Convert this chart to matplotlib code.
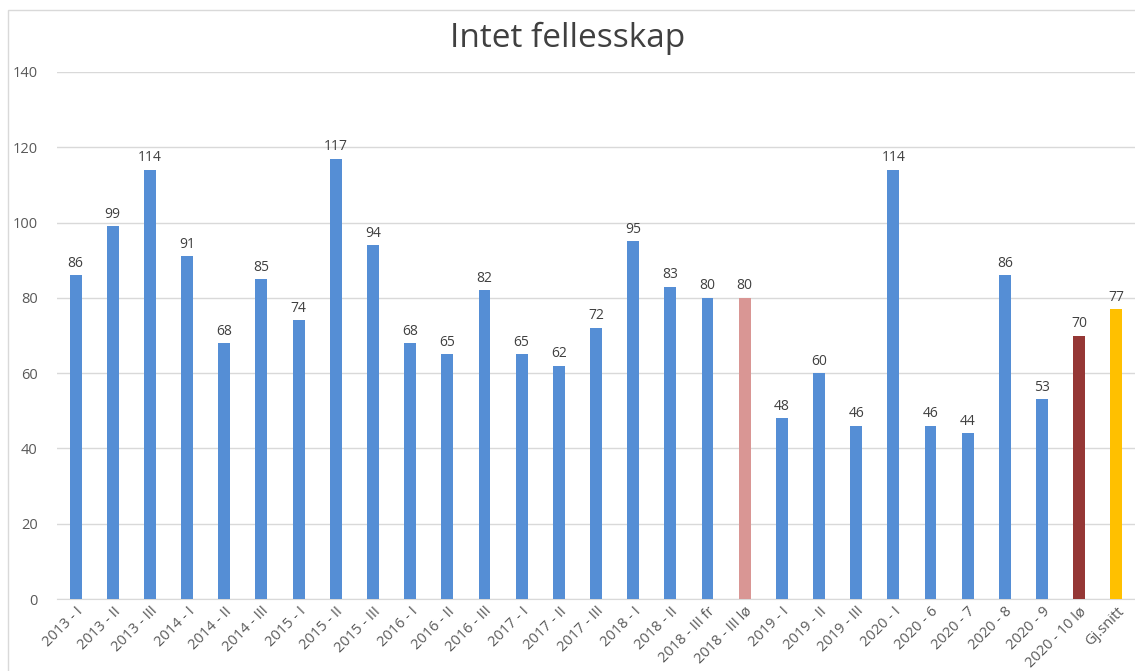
import matplotlib
matplotlib.use("Agg")
import matplotlib.pyplot as plt
from matplotlib.patches import Rectangle

plt.rcParams["font.family"] = ["Open Sans", "DejaVu Sans"]

categories = [
    "2013 - I", "2013 - II", "2013 - III", "2014 - I", "2014 - II", "2014 - III",
    "2015 - I", "2015 - II", "2015 - III", "2016 - I", "2016 - II", "2016 - III",
    "2017 - I", "2017 - II", "2017 - III", "2018 - I", "2018 - II", "2018 - III fr",
    "2018 - III lø", "2019 - I", "2019 - II", "2019 - III", "2020 - I", "2020 - 6",
    "2020 - 7", "2020 - 8", "2020 - 9", "2020 - 10 lø", "Gj.snitt",
]
values = [86, 99, 114, 91, 68, 85, 74, 117, 94, 68, 65, 82, 65, 62, 72, 95, 83, 80,
          80, 48, 60, 46, 114, 46, 44, 86, 53, 70, 77]

blue = "#558ED5"
special = {"2018 - III lø": "#D99694", "2020 - 10 lø": "#953735", "Gj.snitt": "#FFC000"}
colors = [special.get(c, blue) for c in categories]

fig = plt.figure(figsize=(11.35, 6.71), dpi=100)
ax = fig.add_axes([0.0502, 0.1073, 0.9498, 0.7854])

x = range(len(categories))
bars = ax.bar(x, values, width=0.32, color=colors, zorder=3)
for b, v in zip(bars, values):
    ax.text(b.get_x() + b.get_width() / 2, v + 1.2, str(v), ha="center", va="bottom",
            fontsize=10, color="#404040")

ax.set_xlim(-0.5, len(categories) - 0.5)
ax.set_ylim(0, 140)
ax.set_yticks(range(0, 141, 20))
ax.yaxis.grid(True, color="#D9D9D9", linewidth=1, zorder=0)
ax.tick_params(axis="both", length=0, labelsize=10.5, colors="#595959")
ax.tick_params(axis="y", pad=14)
ax.set_xticks(list(x))
ax.set_xticklabels(categories, rotation=45, ha="right", rotation_mode="anchor")
for s in ax.spines.values():
    s.set_visible(False)
ax.spines["bottom"].set_visible(True)
ax.spines["bottom"].set_color("#D9D9D9")

fig.text(0.5, 0.943, "Intet fellesskap", ha="center", va="center", fontsize=24,
         color="#404040")

fig.patches.append(Rectangle((8 / 1135, -0.1), 1.2, 1.1 - 10 / 671,
                             transform=fig.transFigure, fill=False,
                             edgecolor="#D9D9D9", linewidth=1))

fig.savefig("out.png", dpi=100)
